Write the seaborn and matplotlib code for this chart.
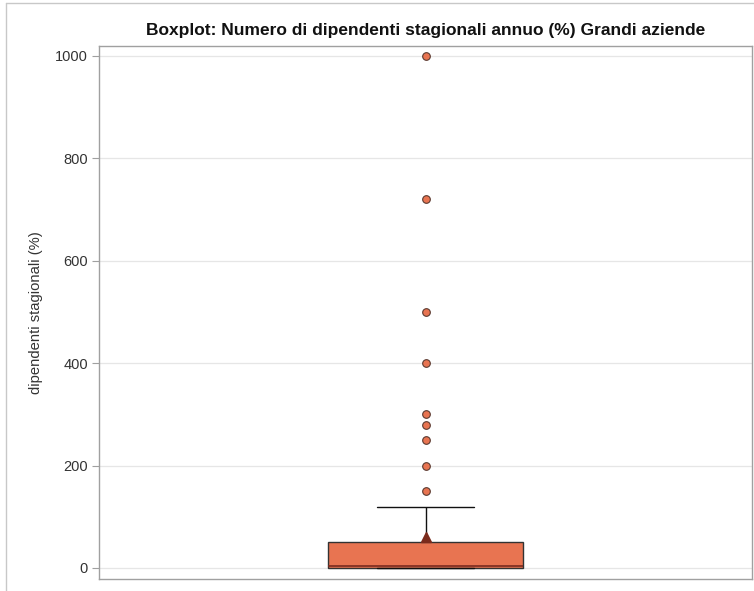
import numpy as np
import pandas as pd
import seaborn as sns
import matplotlib
matplotlib.use("Agg")
import matplotlib.pyplot as plt
from matplotlib.lines import Line2D

# Seasonal employees per year (%) for large firms: distinct values and how many firms report each
pct_values = [0, 2, 4, 10, 20, 30, 40, 50, 60, 80, 100, 120,
              150, 200, 250, 280, 300, 400, 500, 720, 1000]
firm_counts = [36, 5, 6, 5, 5, 4, 2, 5, 3, 3, 1, 1,
               1, 1, 1, 1, 1, 1, 1, 1, 1]

title_text = "Boxplot: Numero di dipendenti stagionali annuo (%) Grandi aziende"
ylabel_text = "dipendenti stagionali (%)"
yticks = [0, 200, 400, 600, 800, 1000]

df = pd.DataFrame({"dipendenti": np.repeat(pct_values, firm_counts)})

sns.set_theme(style="white")
plt.rcParams["font.family"] = ["Liberation Sans", "DejaVu Sans"]

fig = plt.figure(figsize=(7.54, 5.91), dpi=100)
ax = fig.add_axes([99 / 754, 1 - 579 / 591, (752 - 99) / 754, (579 - 46) / 591])

box_color = "#E87451"
sns.boxplot(
    data=df, y="dipendenti", ax=ax, color=box_color, width=0.3,
    whis=1.5, showmeans=True, saturation=1,
    boxprops=dict(facecolor=box_color, edgecolor="#333333", linewidth=1.0),
    medianprops=dict(color="#7A2A1F", linewidth=1.2),
    whiskerprops=dict(color="#111111", linewidth=1.0),
    capprops=dict(color="#111111", linewidth=1.0),
    meanprops=dict(marker="^", markerfacecolor="#7B2B1C", markeredgecolor="#7B2B1C",
                   markersize=6.5),
    flierprops=dict(marker="o", markerfacecolor=box_color, markeredgecolor="#5a3a30",
                    markersize=5.5, markeredgewidth=0.8),
)

ax.set_ylim(-21.5, 1019.5)
ax.set_xlim(-0.5, 0.5)
ax.set_yticks(yticks)
ax.set_yticklabels([str(t) for t in yticks], fontsize=10.5, color="#333333")
ax.yaxis.grid(True, color="#E6E6E6", linewidth=0.9)
ax.set_axisbelow(True)
ax.set_xticks([])
ax.set_xlabel("")
ax.set_ylabel(ylabel_text, fontsize=10.6, color="#333333", labelpad=9)
ax.tick_params(axis="y", which="major", left=True, length=5, width=0.8,
               color="#A0A0A0", pad=3)
for side in ax.spines.values():
    side.set_color("#A0A0A0")
    side.set_linewidth(1.0)

ax.set_title(title_text, fontsize=12.5, fontweight="bold", color="#111111", pad=8)

# thin outer frame along the left and top edges of the figure
fig.add_artist(Line2D([6 / 754, 6 / 754], [0, 1 - 3 / 591], transform=fig.transFigure,
                      color="#C8C8C8", linewidth=1.0))
fig.add_artist(Line2D([6 / 754, 1], [1 - 3 / 591, 1 - 3 / 591], transform=fig.transFigure,
                      color="#C8C8C8", linewidth=1.0))

fig.savefig("out.png", dpi=100)
